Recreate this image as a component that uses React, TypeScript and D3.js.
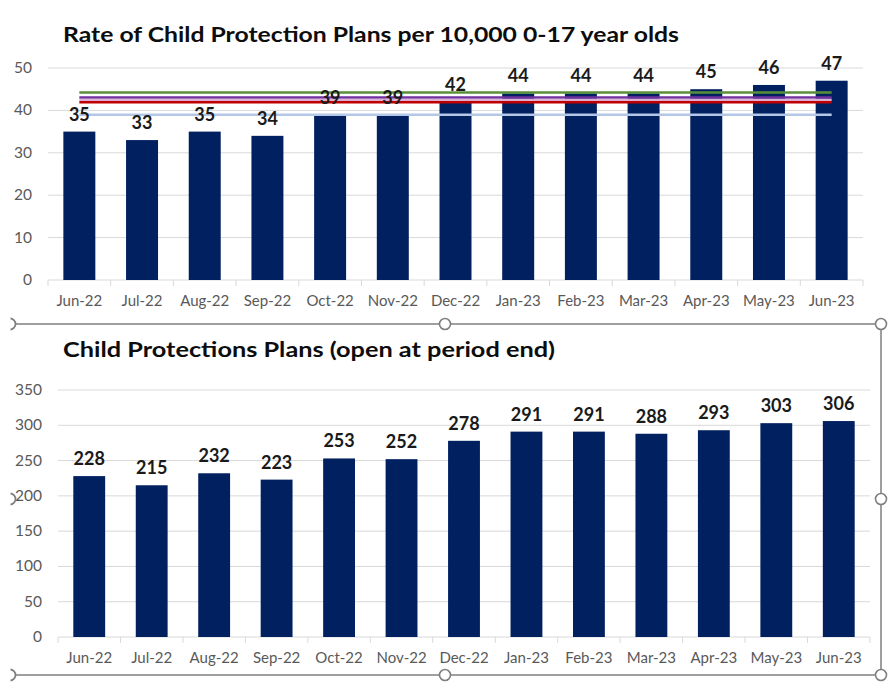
import React from "react";
import * as d3 from "d3";

const months = ["Jun-22","Jul-22","Aug-22","Sep-22","Oct-22","Nov-22","Dec-22","Jan-23","Feb-23","Mar-23","Apr-23","May-23","Jun-23"];
const rateValues = [35, 33, 35, 34, 39, 39, 42, 44, 44, 44, 45, 46, 47];
const planValues = [228, 215, 232, 223, 253, 252, 278, 291, 291, 288, 293, 303, 306];
const rateTicks = [0, 10, 20, 30, 40, 50];
const planTicks = [0, 50, 100, 150, 200, 250, 300, 350];
const refLineNames = ["green", "purple", "pink", "red", "lightblue"];
const refLineValues = [44.25, 43.05, 42.45, 41.9, 39.0];
const refLineColors = ["#5a8f3a", "#7030a0", "#dcb0d4", "#c00000", "#b4c7e7"];

const title1 = "Rate of Child Protection Plans per 10,000 0-17 year olds";
const title2 = "Child Protections Plans (open at period end)";

const FONT = "Lato, 'Open Sans', sans-serif";
const BAR = "#002060";
const GRID = "#d9d9d9";
const TICK = "#595959";

type PanelProps = {
  values: number[];
  ticks: number[];
  yMax: number;
  x0: number; x1: number; y0: number; y1: number;
  labelRight: number;
  refs?: boolean;
};

function Panel({ values, ticks, yMax, x0, x1, y0, y1, labelRight, refs }: PanelProps) {
  const x = d3.scaleBand<string>().domain(months).range([x0, x1]).paddingInner(0.49).paddingOuter(0.245);
  const y = d3.scaleLinear().domain([0, yMax]).range([y0, y1]);
  const step = x.step();
  const firstC = (x(months[0]) as number) + x.bandwidth() / 2;
  const lastC = (x(months[months.length - 1]) as number) + x.bandwidth() / 2;
  return (
    <g>
      {ticks.map((t) => (
        <g key={t}>
          {t !== 0 && <line x1={x0} x2={x1} y1={y(t)} y2={y(t)} stroke={GRID} strokeWidth={1} />}
          <text x={labelRight} y={y(t) + 5} textAnchor="end" fontSize={15.5} fill={TICK} fontFamily={FONT}>{t}</text>
        </g>
      ))}
      <line x1={x0} x2={x1} y1={y(0)} y2={y(0)} stroke={GRID} strokeWidth={1} />
      {d3.range(months.length + 1).map((i) => (
        <line key={i} x1={x0 + i * step} x2={x0 + i * step} y1={y(0)} y2={y(0) + 6} stroke={GRID} strokeWidth={1} />
      ))}
      {values.map((v, i) => (
        <rect key={months[i]} x={x(months[i])} y={y(v)} width={x.bandwidth()} height={y(0) - y(v)} fill={BAR} />
      ))}
      {refs && refLineValues.map((v, i) => (
        <line key={refLineNames[i]} x1={firstC} x2={lastC} y1={y(v)} y2={y(v)} stroke={refLineColors[i]} strokeWidth={2.5} />
      ))}
      {values.map((v, i) => (
        <text key={"l" + months[i]} x={(x(months[i]) as number) + x.bandwidth() / 2} y={y(v) - 11} textAnchor="middle" fontSize={18} fontWeight="bold" fill="#1a1a1a" fontFamily={FONT}>{v}</text>
      ))}
      {months.map((m) => (
        <text key={"x" + m} x={(x(m) as number) + x.bandwidth() / 2} y={y(0) + 26} textAnchor="middle" fontSize={15} fill={TICK} fontFamily={FONT}>{m}</text>
      ))}
    </g>
  );
}

export default function App() {
  const frame = "#7f7f7f";
  const handles: [number, number][] = [[445, 324], [881, 324], [881, 499], [881, 675], [445, 675]];
  const leftHandles: [number, number][] = [[10, 324], [10, 499], [10, 675]];
  return (
    <svg width={888} height={682} style={{ position: "absolute", left: 0, top: 0, background: "#fff" }}>
      <defs>
        <clipPath id="leftclip"><rect x={10.5} y={0} width={20} height={682} /></clipPath>
      </defs>
      <rect x={0} y={0} width={888} height={682} fill="#fff" />
      <text x={63} y={42} fontSize={21} fontWeight="bold" fontFamily={FONT} fill="#0d0d0d" textLength={616} lengthAdjust="spacingAndGlyphs">{title1}</text>
      <Panel values={rateValues} ticks={rateTicks} yMax={50} x0={48} x1={863} y0={280} y1={68} labelRight={32} refs />
      <text x={63} y={357} fontSize={21} fontWeight="bold" fontFamily={FONT} fill="#0d0d0d" textLength={492} lengthAdjust="spacingAndGlyphs">{title2}</text>
      <Panel values={planValues} ticks={planTicks} yMax={350} x0={58} x1={870} y0={637} y1={390} labelRight={42} />
      <line x1={15} x2={881} y1={324} y2={324} stroke={frame} strokeWidth={1.5} />
      <line x1={15} x2={881} y1={675} y2={675} stroke={frame} strokeWidth={1.5} />
      <line x1={881} x2={881} y1={324} y2={675} stroke={frame} strokeWidth={1.5} />
      {handles.map(([cx, cy], i) => (
        <circle key={i} cx={cx} cy={cy} r={5.5} fill="#fff" stroke={frame} strokeWidth={1.6} />
      ))}
      <g clipPath="url(#leftclip)">
        {leftHandles.map(([cx, cy], i) => (
          <circle key={i} cx={cx} cy={cy} r={5.5} fill="#fff" stroke={frame} strokeWidth={1.8} />
        ))}
      </g>
    </svg>
  );
}
